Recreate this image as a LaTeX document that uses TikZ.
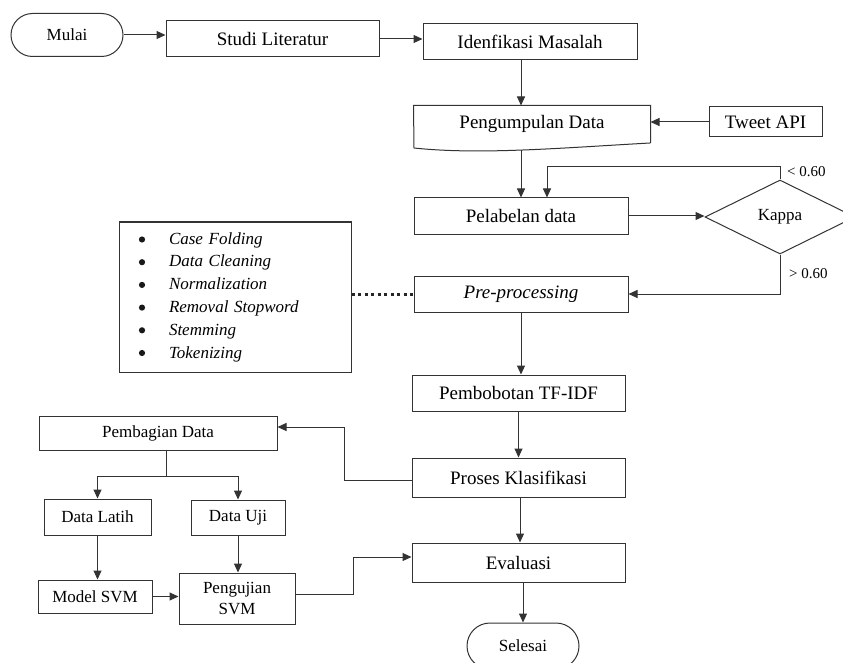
\documentclass[tikz,border=0pt]{standalone}
\usepackage{fontspec}
\setmainfont{Liberation Serif}
\usetikzlibrary{arrows.meta,shapes.geometric,shapes.misc}
\newcommand{\listitm}[1]{\hspace*{25pt}\textit{#1}}
\begin{document}
\begin{tikzpicture}[x=1pt,y=-1pt,
  line/.style={draw=black!80, line width=1pt},
  arr/.style={line, -{Triangle[length=9pt,width=8pt]}},
  box/.style={draw=black!80, line width=1pt, rectangle, inner sep=0pt, font=\fontsize{19}{22}\selectfont, text=black},
  sbox/.style={box, font=\fontsize{17}{21}\selectfont},
  term/.style={draw=black!80, line width=1pt, rounded rectangle, inner sep=0pt, font=\fontsize{17}{21}\selectfont, text=black},
  lbl/.style={font=\fontsize{15}{18}\selectfont, inner sep=0pt, anchor=west, text=black},
  dot/.style={fill=black!90}
]
\useasboundingbox (0,0) rectangle (843,663);
\clip (0,0) rectangle (843,663);
\fill[white] (0,0) rectangle (843,663);

% main column
\node[term, minimum width=112pt, minimum height=43pt] (mulai) at (67,35) {Mulai};
\node[box, minimum width=213pt, minimum height=36pt] (studi) at (272.5,39) {Studi Literatur};
\node[box, minimum width=214pt, minimum height=36pt] (iden) at (530,42) {Idenfikasi Masalah};
\node[box, draw=none, minimum width=236pt, minimum height=36pt] (peng) at (532,124) {Pengumpulan Data};
\draw[line] (peng.south east) -- (peng.north east) -- (peng.north west) -- (414,148)
  .. controls (480,155) and (560,148) .. (650,143) -- cycle;
\coordinate (pengbot) at (521,150);
\node[box, minimum width=113pt, minimum height=30pt] (tweet) at (765.5,122) {Tweet API};
\node[box, minimum width=214pt, minimum height=36pt] (pel) at (521,216) {Pelabelan data};
\node[diamond, draw=black!80, line width=1pt, inner sep=0pt, minimum width=150pt, minimum height=74pt, font=\fontsize{17}{21}\selectfont] (kappa) at (780,217) {Kappa};
\node[box, minimum width=214pt, minimum height=36pt] (prep) at (521,294) {\textit{Pre-processing}};
\node[draw=black!80, line width=1pt, minimum width=232pt, minimum height=150pt, text width=182pt, inner xsep=25pt, inner ysep=0pt, align=left, font=\fontsize{17}{22.8}\selectfont] (list) at (235,297)
  {\listitm{Case Folding}\\ \listitm{Data Cleaning}\\ \listitm{Normalization}\\ \listitm{Removal Stopword}\\ \listitm{Stemming}\\ \listitm{Tokenizing}};
\foreach \i in {0,...,5} \fill[dot] (142,239.5+22.7*\i) circle (3.1pt);
\node[box, minimum width=213pt, minimum height=36pt] (pemb) at (518.5,393) {Pembobotan TF-IDF};
\node[box, minimum width=213pt, minimum height=39pt] (proses) at (518.5,477.5) {Proses Klasifikasi};
\node[box, minimum width=213pt, minimum height=39pt] (eval) at (518.5,562.5) {Evaluasi};
\node[term, minimum width=112pt, minimum height=46pt] (selesai) at (523,646) {Selesai};

% left branch
\node[sbox, minimum width=238pt, minimum height=34pt] (bagi) at (158,433) {Pembagian Data};
\node[sbox, minimum width=107pt, minimum height=36pt] (latih) at (97.5,517) {Data Latih};
\node[sbox, minimum width=94pt, minimum height=35pt] (uji) at (238,517.5) {Data Uji};
\node[sbox, minimum width=114pt, minimum height=33pt] (model) at (95,596.5) {Model SVM};
\node[sbox, minimum width=116pt, minimum height=51pt, align=center, font=\fontsize{17}{21}\selectfont] (uj) at (237,598.5) {Pengujian\\SVM};
\coordinate (split) at (166,476);

% labels
\node[lbl] (lt) at (787,172) {< 0.60};
\node[lbl] (gt) at (789,274) {> 0.60};

% connectors
\draw[arr] (mulai.east) -- (mulai.east -| studi.west);
\draw[arr] (studi.east) -- (studi.east -| iden.west);
\draw[arr] (pel |- iden.south) -- (pel |- peng.north);
\draw[arr] (tweet.west) -- (tweet.west -| peng.east);
\draw[arr] (pengbot) -- (pengbot |- pel.north);
\draw[arr] (pel.east) -- (pel.east -| kappa.west);
\draw[arr] (kappa.north) -- ++(0,-13) -| ([xshift=26pt]pel.north);
\draw[arr] (kappa.south) |- (prep.east);
\draw[black!85, line width=3pt, dash pattern=on 3pt off 3.5pt] (list.east |- prep) -- (prep.west);
\draw[arr] (prep.south) -- (prep.south |- pemb.north);
\draw[arr] (pemb.south) -- (pemb.south |- proses.north);
\draw[arr] ([xshift=1.5pt]proses.south) -- ([xshift=1.5pt]proses.south |- eval.north);
\draw[arr] (selesai.north |- eval.south) -- (selesai.north);
\draw[arr] ([yshift=-3pt]proses.west) -- ++(-67,0) |- ([yshift=6pt]bagi.east);
\draw[line] (split |- bagi.south) -- (split);
\draw[arr] (split) -| (latih.north);
\draw[arr] (split) -| (uji.north);
\draw[arr] (latih.south) -- (latih.south |- model.north);
\draw[arr] (uji.south) -- (uji.south |- uj.north);
\draw[arr] (model.east) -- (model.east -| uj.west);
\draw[arr] ([yshift=4.5pt]uj.east) -- ++(58,0) |- ([yshift=5.5pt]eval.west);
\end{tikzpicture}
\end{document}
